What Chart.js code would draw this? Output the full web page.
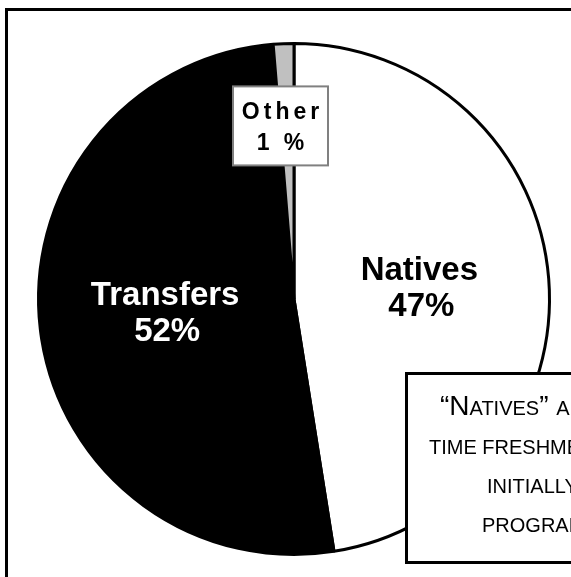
<!DOCTYPE html>
<html>
<head>
<meta charset="utf-8">
<script src="https://cdn.jsdelivr.net/npm/chart.js@4/dist/chart.umd.min.js"></script>
<style>
  html, body { margin: 0; padding: 0; background: #fff; overflow: hidden; }
  #wrap { width: 571px; height: 577px; position: relative; }
</style>
</head>
<body>
<div id="wrap"><canvas id="pie"></canvas></div>
<script>
const labels = ['Natives', 'Transfers', 'Other']
const values = [47.5, 51.2, 1.3]
const pctLabels = ['47%', '52%', '1 %']
const colors = ['#ffffff', '#000000', '#c0c0c0']
const noteLines = ['ARE FIRST-', 'TIME FRESHMEN WHO', 'INITIALLY ENTERED THE', 'PROGRAM']

const FONT = '"Liberation Sans", Arial, sans-serif'

// outer frame, runs off the right and bottom edges
const framePlugin = {
  id: 'frame',
  beforeDraw (chart) {
    const ctx = chart.ctx
    ctx.save()
    ctx.fillStyle = '#fff'
    ctx.fillRect(0, 0, chart.width, chart.height)
    ctx.strokeStyle = '#000'
    ctx.lineWidth = 3
    ctx.strokeRect(6.5, 9.5, chart.width + 20, chart.height + 20)
    ctx.restore()
  }
}

const labelPlugin = {
  id: 'sliceLabels',
  afterDatasetsDraw (chart) {
    const ctx = chart.ctx
    const arcs = chart.getDatasetMeta(0).data
    ctx.save()
    ctx.textAlign = 'center'
    ctx.textBaseline = 'alphabetic'

    // Natives and Transfers: inside the slice
    for (let i = 0; i < 2; i++) {
      const p = arcs[i].tooltipPosition()
      ctx.fillStyle = i === 1 ? '#fff' : '#000'
      ctx.font = 'bold 33px ' + FONT
      ctx.fillText(labels[i], p.x - 2, p.y - 9)
      ctx.fillText(pctLabels[i], p.x, p.y + 27)
    }

    // Other: boxed label below the thin slice
    const a = arcs[2]
    const mid = (a.startAngle + a.endAngle) / 2
    const by = a.y + Math.sin(mid) * a.outerRadius * 0.68
    const bx = 280.5
    ctx.fillStyle = '#fff'
    ctx.fillRect(233, by - 39, 95, 79)
    ctx.strokeStyle = '#808080'
    ctx.lineWidth = 2
    ctx.strokeRect(233, by - 39, 95, 79)
    ctx.fillStyle = '#000'
    ctx.font = 'bold 23px ' + FONT
    ctx.letterSpacing = '4px'
    ctx.fillText(labels[2], bx + 2, by - 6)
    ctx.fillText(pctLabels[2], bx + 2, by + 25)
    ctx.letterSpacing = '0px'

    // note box in the lower right
    ctx.fillStyle = '#fff'
    ctx.fillRect(406, 373, 300, 189)
    ctx.strokeStyle = '#000'
    ctx.lineWidth = 3
    ctx.strokeRect(406.5, 373.5, 300, 189)
    ctx.fillStyle = '#000'
    ctx.textAlign = 'left'
    let x = 440
    ctx.font = '28px ' + FONT
    ctx.fillText('\u201C', x, 415)
    x += ctx.measureText('\u201C').width
    ctx.fillText('N', x, 415)
    x += ctx.measureText('N').width
    ctx.font = '20px ' + FONT
    ctx.fillText('ATIVES', x, 415)
    x += ctx.measureText('ATIVES').width
    ctx.font = '28px ' + FONT
    ctx.fillText('\u201D', x, 415)
    x += ctx.measureText('\u201D ').width
    ctx.font = '20px ' + FONT
    ctx.fillText(noteLines[0], x, 415)
    ctx.fillText(noteLines[1], 429, 454)
    ctx.fillText(noteLines[2], 487, 493)
    ctx.fillText(noteLines[3], 482, 532)
    ctx.restore()
  }
}

new Chart(document.getElementById('pie'), {
  type: 'pie',
  data: {
    labels: labels,
    datasets: [{
      data: values,
      backgroundColor: colors,
      borderColor: '#000',
      borderWidth: 3,
      borderAlign: 'center'
    }]
  },
  options: {
    responsive: true,
    maintainAspectRatio: false,
    animation: false,
    layout: { padding: { left: 37, top: 42, right: 20, bottom: 21 } },
    plugins: {
      legend: { display: false },
      tooltip: { enabled: false }
    }
  },
  plugins: [framePlugin, labelPlugin]
})
</script>
</body>
</html>
